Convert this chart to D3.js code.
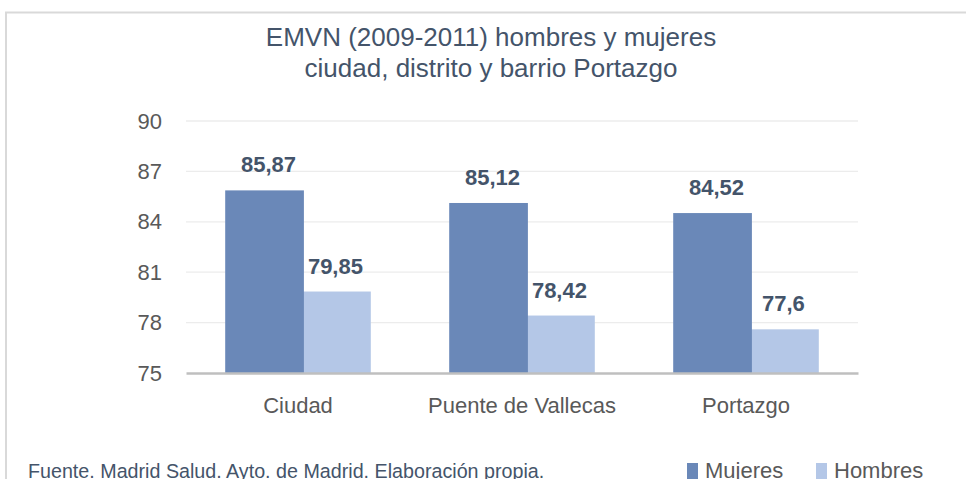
<!DOCTYPE html>
<html>
<head>
<meta charset="utf-8">
<script src="https://cdn.jsdelivr.net/npm/d3@7"></script>
<style>
  html, body { margin: 0; padding: 0; background: #fff; }
  svg { display: block; font-family: "Liberation Sans", Arial, sans-serif; }
</style>
</head>
<body>
<svg id="chart" width="966" height="479"></svg>
<script>
// EMVN (esperanza media de vida al nacer) 2009-2011

const categories = ["Ciudad", "Puente de Vallecas", "Portazgo"];
const seriesNames = ["Mujeres", "Hombres"];
const mujeres = [85.87, 85.12, 84.52];
const hombres = [79.85, 78.42, 77.6];
const yTicks = [75, 78, 81, 84, 87, 90];
const titleLines = ["EMVN (2009-2011) hombres y mujeres", "ciudad, distrito y barrio Portazgo"];
const sourceText = "Fuente. Madrid Salud. Ayto. de Madrid. Elaboración propia.";

const colors = { Mujeres: "#6a88b8", Hombres: "#b4c7e7" };
const fmt = v => String(v).replace(".", ",");

const svg = d3.select("#chart");
const margin = { top: 121, right: 108, bottom: 106, left: 186 };
const width = 966, height = 479;
const innerWidth = width - margin.left - margin.right;
const innerHeight = height - margin.top - margin.bottom;

// frame
svg.append("path")
  .attr("d", `M6,${height} V12.5 H${width}`)
  .attr("fill", "none")
  .attr("stroke", "#d9d9d9")
  .attr("stroke-width", 2);

// title
svg.append("g")
  .selectAll("text")
  .data(titleLines)
  .join("text")
  .attr("x", 491)
  .attr("y", (d, i) => 46 + i * 31)
  .attr("text-anchor", "middle")
  .attr("font-size", 26)
  .attr("fill", "#44546a")
  .text(d => d);

const g = svg.append("g")
  .attr("transform", `translate(${margin.left},${margin.top})`);

const x0 = d3.scaleBand()
  .domain(categories)
  .range([0, innerWidth])
  .paddingInner(0.35)
  .paddingOuter(0.175);

// bars overlap a little (Excel style)
const overlap = 0.15;
const barW = x0.bandwidth() / (2 - overlap);
const x1 = d3.scaleOrdinal()
  .domain(seriesNames)
  .range([0, x0.bandwidth() - barW]);

const y = d3.scaleLinear()
  .domain([75, 90])
  .range([innerHeight, 0]);

// grid
g.append("g")
  .selectAll("line")
  .data(yTicks.filter(t => t !== 75))
  .join("line")
  .attr("x1", 0)
  .attr("x2", innerWidth)
  .attr("y1", d => y(d))
  .attr("y2", d => y(d))
  .attr("stroke", "#ececec")
  .attr("stroke-width", 1.3);

// y axis labels
const yAxis = d3.axisLeft(y).tickValues(yTicks).tickSize(0).tickPadding(24);
g.append("g")
  .call(yAxis)
  .call(s => s.select(".domain").remove())
  .selectAll("text")
  .attr("font-size", 22)
  .attr("fill", "#595959")
  .attr("font-family", "Liberation Sans, Arial, sans-serif");

const rows = categories.map((c, i) => ({
  category: c,
  values: [
    { series: "Hombres", value: hombres[i] },
    { series: "Mujeres", value: mujeres[i] }
  ]
}));

const groups = g.append("g")
  .selectAll("g")
  .data(rows)
  .join("g")
  .attr("transform", d => `translate(${x0(d.category)},0)`);

groups.selectAll("rect")
  .data(d => d.values)
  .join("rect")
  .attr("x", d => x1(d.series))
  .attr("y", d => y(d.value))
  .attr("width", barW)
  .attr("height", d => innerHeight - y(d.value))
  .attr("fill", d => colors[d.series]);

groups.selectAll("text")
  .data(d => d.values)
  .join("text")
  .attr("x", d => x1(d.series) + barW / 2 + 4)
  .attr("y", d => y(d.value) - 18)
  .attr("text-anchor", "middle")
  .attr("font-size", 22)
  .attr("font-weight", "bold")
  .attr("fill", "#44546a")
  .text(d => fmt(d.value));

// x axis
const xAxis = d3.axisBottom(x0).tickSize(0).tickPadding(24);
const xg = g.append("g")
  .attr("transform", `translate(0,${innerHeight})`)
  .call(xAxis);
xg.select(".domain")
  .attr("stroke", "#bfbfbf")
  .attr("stroke-width", 2.5);
xg.selectAll("text")
  .attr("font-size", 22)
  .attr("fill", "#595959")
  .attr("font-family", "Liberation Sans, Arial, sans-serif");

// source
svg.append("text")
  .attr("x", 28)
  .attr("y", 478)
  .attr("font-size", 19.7)
  .attr("fill", "#44546a")
  .text(sourceText);

// legend
const legendX = [687, 816];
const legend = svg.append("g")
  .selectAll("g")
  .data(seriesNames)
  .join("g")
  .attr("transform", (d, i) => `translate(${legendX[i]},463)`);
legend.append("rect")
  .attr("width", 11)
  .attr("height", 16)
  .attr("fill", d => colors[d]);
legend.append("text")
  .attr("x", 18)
  .attr("y", 15)
  .attr("font-size", 22)
  .attr("fill", "#595959")
  .text(d => d);
</script>
</body>
</html>
